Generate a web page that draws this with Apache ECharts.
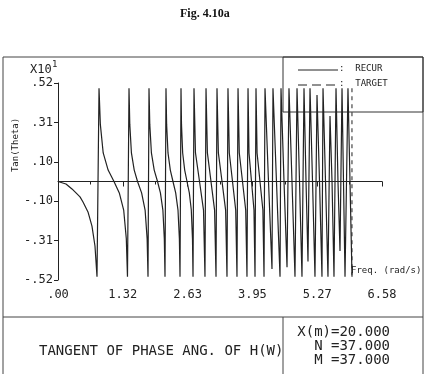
<!DOCTYPE html>
<html lang="en">
<head>
<meta charset="UTF-8">
<title>Fig. 4.10a</title>
<script src="https://cdn.jsdelivr.net/npm/echarts@6/dist/echarts.min.js"></script>
<style>
    html, body { margin: 0; padding: 0; background: #fff; }
    #chart { width: 429px; height: 374px; }
</style>
</head>
<body>
<div id="chart"></div>
<script>
    var freq = [
        0, 0.162, 0.284, 0.447, 0.508, 0.609, 0.690, 0.751, 0.792,
        0.833, 0.860, 0.918, 1.018, 1.137, 1.245, 1.334, 1.387, 1.411,
        1.442, 1.458, 1.491, 1.548, 1.615, 1.698, 1.769, 1.810, 1.828,
        1.848, 1.864, 1.897, 1.954, 2.021, 2.080, 2.130, 2.159, 2.173,
        2.193, 2.206, 2.234, 2.281, 2.335, 2.390, 2.437, 2.465, 2.478,
        2.498, 2.508, 2.532, 2.573, 2.620, 2.667, 2.707, 2.731, 2.742,
        2.762, 2.792, 2.874, 2.955, 2.985,
        3.006, 3.034, 3.107, 3.180, 3.209,
        3.229, 3.257, 3.331, 3.404, 3.432,
        3.452, 3.479, 3.544, 3.609, 3.635,
        3.656, 3.682, 3.747, 3.812, 3.838,
        3.859, 3.879, 3.930, 3.980, 4.001,
        4.021, 4.043, 4.102, 4.161, 4.184,
        4.204, 4.275, 4.346,
        4.366, 4.437, 4.509,
        4.529, 4.590, 4.651,
        4.691, 4.752, 4.813,
        4.854, 4.905, 4.955,
        4.996, 5.037, 5.077,
        5.118, 5.169, 5.219,
        5.260, 5.311, 5.361,
        5.382, 5.433, 5.483,
        5.524, 5.565, 5.605,
        5.646, 5.686, 5.727,
        5.768, 5.798, 5.829,
        5.889, 5.930, 5.971
    ];
    var tanTheta = [
        0, -0.13, -0.39, -0.81, -1.08, -1.6, -2.34, -3.39, -5.0,
        4.9, 3.0, 1.5, 0.6, 0, -0.6, -1.5, -3.0, -5.0,
        4.9, 3.0, 1.5, 0.6, 0, -0.6, -1.5, -3.0, -5.0,
        4.9, 3.0, 1.5, 0.6, 0, -0.6, -1.5, -3.0, -5.0,
        4.9, 3.0, 1.5, 0.6, 0, -0.6, -1.5, -3.0, -5.0,
        4.9, 3.0, 1.5, 0.6, 0, -0.6, -1.5, -3.0, -5.0,
        4.9, 1.5, 0, -1.5, -5.0,
        4.9, 1.5, 0, -1.5, -5.0,
        4.9, 1.5, 0, -1.5, -5.0,
        4.9, 1.5, 0, -1.5, -5.0,
        4.9, 1.5, 0, -1.5, -5.0,
        4.9, 1.5, 0, -1.5, -5.0,
        4.9, 1.5, 0, -1.5, -5.0,
        4.9, 0, -4.6,
        4.9, 0, -5.0,
        4.9, 0, -4.5,
        4.9, 0, -5.0,
        4.9, 0, -5.0,
        4.9, 0, -4.2,
        4.9, 0, -5.0,
        4.55, 0, -5.0,
        4.9, 0, -5.0,
        3.44, 0, -5.0,
        4.9, 0, -3.65,
        4.9, 0, -5.0,
        4.9, 0, -5.0
    ];
    // TARGET: zero line plus the band-edge marker
    var targetFreq = [0, 6.30];
    var targetTan = [0, 0];
    var edgeFreq = [5.97, 5.97];
    var edgeTan = [4.9, -4.9];

    var xTickLabels = ['.00', '1.32', '2.63', '3.95', '5.27', '6.58'];
    var yTickLabels = ['-.52', '-.31', '-.10', '.10', '.31', '.52'];

    function pairs(xs, ys) {
        var out = [];
        for (var i = 0; i < xs.length; i++) out.push([xs[i], ys[i]]);
        return out;
    }

    var ink = '#222';
    var mono = 'DejaVu Sans Mono';
    var chart = echarts.init(document.getElementById('chart'));

    chart.setOption({
        animation: false,
        backgroundColor: '#fff',
        grid: { left: 58, right: 47, top: 83, bottom: 94 },
        xAxis: {
            type: 'value', min: 0, max: 6.58, interval: 1.316,
            axisLine: { lineStyle: { color: ink, width: 1 } },
            axisTick: { show: true, length: 5, lineStyle: { color: ink } },
            minorTick: { show: true, splitNumber: 2, length: 3, lineStyle: { color: ink } },
            splitLine: { show: false },
            axisLabel: {
                color: ink, fontFamily: mono, fontSize: 12, margin: 9,
                formatter: function (v) { return xTickLabels[Math.round(v / 1.316)]; }
            }
        },
        yAxis: {
            type: 'value', min: -5.175, max: 5.175, interval: 2.07,
            axisLine: { show: true, lineStyle: { color: ink, width: 1 } },
            axisTick: { show: true, length: 4, lineStyle: { color: ink } },
            splitLine: { show: false },
            axisLabel: {
                color: ink, fontFamily: mono, fontSize: 12, margin: 5,
                formatter: function (v) { return yTickLabels[Math.round((v + 5.175) / 2.07)]; }
            }
        },
        series: [
            {
                name: 'RECUR', type: 'line', data: pairs(freq, tanTheta),
                showSymbol: false, lineStyle: { color: ink, width: 1.2 }
            },
            {
                name: 'TARGET', type: 'line', data: pairs(targetFreq, targetTan),
                showSymbol: false, lineStyle: { color: ink, width: 1, type: [4, 4] }
            },
            {
                name: 'TARGET', type: 'line', data: pairs(edgeFreq, edgeTan),
                showSymbol: false, lineStyle: { color: ink, width: 1, type: [4, 4] }
            }
        ],
        graphic: [
            { type: 'text', x: 180, y: 8, style: { text: 'Fig. 4.10a', font: 'bold 12px "Liberation Serif"', fill: '#111' } },
            // page frame and panels
            { type: 'rect', shape: { x: 3, y: 57, width: 420, height: 330 }, style: { fill: null, stroke: '#444', lineWidth: 1 } },
            { type: 'line', shape: { x1: 3, y1: 317, x2: 423, y2: 317 }, style: { stroke: '#444', lineWidth: 1 } },
            { type: 'line', shape: { x1: 283, y1: 317, x2: 283, y2: 374 }, style: { stroke: '#444', lineWidth: 1 } },
            { type: 'rect', shape: { x: 283, y: 57, width: 140, height: 55 }, style: { fill: null, stroke: '#333', lineWidth: 1 } },
            // legend
            { type: 'line', shape: { x1: 298, y1: 70, x2: 338, y2: 70 }, style: { stroke: ink, lineWidth: 1 } },
            { type: 'text', x: 339, y: 64, style: { text: ':  RECUR', font: '9px "DejaVu Sans Mono"', fill: ink } },
            { type: 'line', shape: { x1: 298, y1: 85, x2: 338, y2: 85 }, style: { stroke: ink, lineWidth: 1, lineDash: [9, 5] } },
            { type: 'text', x: 339, y: 79, style: { text: ':  TARGET', font: '9px "DejaVu Sans Mono"', fill: ink } },
            // axis annotations
            { type: 'text', x: 30, y: 64, style: { text: 'X10', font: '12px "DejaVu Sans Mono"', fill: ink } },
            { type: 'text', x: 52, y: 60, style: { text: '1', font: '9px "DejaVu Sans Mono"', fill: ink } },
            { type: 'text', x: 16, y: 145, rotation: Math.PI / 2, style: { text: 'Tan(Theta)', font: '9px "DejaVu Sans Mono"', fill: ink, align: 'center', verticalAlign: 'middle' } },
            { type: 'text', x: 351, y: 266, style: { text: 'Freq. (rad/s)', font: '9px "DejaVu Sans Mono"', fill: ink } },
            // bottom panel
            { type: 'text', x: 39, y: 344, style: { text: 'TANGENT OF PHASE ANG. OF H(W)', font: '14px "DejaVu Sans Mono"', fill: ink } },
            { type: 'text', x: 390, y: 325, style: { text: 'X(m)=20.000', font: '14px "DejaVu Sans Mono"', fill: ink, align: 'right' } },
            { type: 'text', x: 390, y: 339, style: { text: 'N =37.000', font: '14px "DejaVu Sans Mono"', fill: ink, align: 'right' } },
            { type: 'text', x: 390, y: 353, style: { text: 'M =37.000', font: '14px "DejaVu Sans Mono"', fill: ink, align: 'right' } }
        ]
    });
</script>
</body>
</html>
